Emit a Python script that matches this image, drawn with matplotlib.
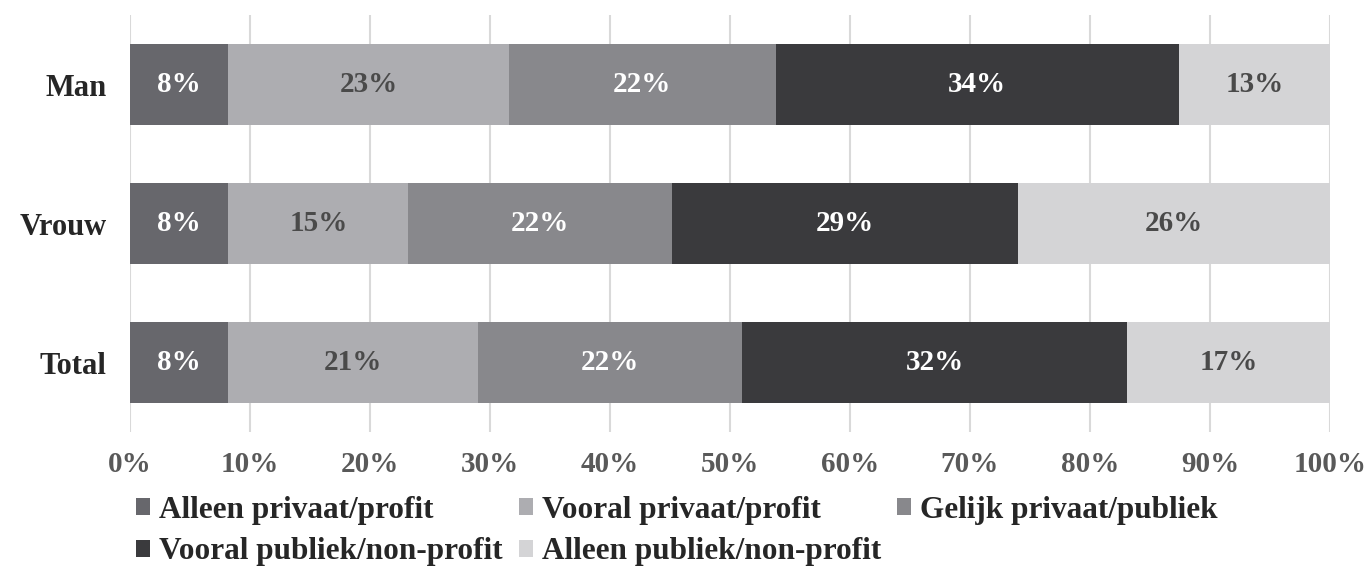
import numpy as np
import matplotlib
matplotlib.use("Agg")
import matplotlib.pyplot as plt
from matplotlib.ticker import PercentFormatter

categories = ["Man", "Vrouw", "Total"]
series_names = ["Alleen privaat/profit", "Vooral privaat/profit", "Gelijk privaat/publiek",
                "Vooral publiek/non-profit", "Alleen publiek/non-profit"]
alleen_privaat = [8.2, 8.2, 8.2]
vooral_privaat = [23.4, 15.0, 20.8]
gelijk = [22.2, 22.0, 22.0]
vooral_publiek = [33.6, 28.8, 32.1]
alleen_publiek = [12.6, 26.0, 16.9]
labels = [[8, 8, 8], [23, 15, 21], [22, 22, 22], [34, 29, 32], [13, 26, 17]]
xticks = [0, 10, 20, 30, 40, 50, 60, 70, 80, 90, 100]

colors = ["#67676c", "#adadb1", "#88888c", "#3a3a3d", "#d4d4d6"]
text_colors = ["white", "#4a4a4a", "white", "white", "#4a4a4a"]

plt.rcParams["font.family"] = ["Liberation Serif", "DejaVu Serif"]
plt.rcParams["font.weight"] = "bold"

fig = plt.figure(figsize=(13.72, 5.8), dpi=100)
ax = fig.add_axes([130 / 1372, 1 - 432 / 580, 1200 / 1372, 417 / 580])

data = [alleen_privaat, vooral_privaat, gelijk, vooral_publiek, alleen_publiek]
y = np.arange(len(categories))
left = np.zeros(len(categories))
handles = []
for i, vals in enumerate(data):
    vals = np.array(vals)
    b = ax.barh(y, vals, left=left, height=0.58, color=colors[i], label=series_names[i], zorder=2)
    handles.append(b)
    for j in range(len(categories)):
        ax.text(left[j] + vals[j] / 2, y[j], f"{labels[i][j]}%", ha="center", va="center",
                color=text_colors[i], fontsize=21, fontweight="bold", zorder=3)
    left += vals

ax.set_xlim(0, 100)
ax.set_ylim(2.5, -0.5)
ax.set_xticks(xticks)
ax.xaxis.set_major_formatter(PercentFormatter(decimals=0))
ax.set_yticks(y)
ax.set_yticklabels(categories)
ax.tick_params(axis="x", length=0, pad=14, labelsize=21, labelcolor="#595959")
ax.tick_params(axis="y", length=0, pad=17, labelsize=22, labelcolor="#262626")
ax.grid(axis="x", color="#d9d9d9", linewidth=1.5, zorder=0)
for s in ax.spines.values():
    s.set_visible(False)

order = [0, 3, 1, 4, 2]
leg = fig.legend([handles[k] for k in order], [series_names[k] for k in order],
                 ncol=3, loc="upper left", bbox_to_anchor=(136 / 1372, 1 - 496 / 580),
                 frameon=False, fontsize=22.5, handlelength=0.45, handleheight=0.45,
                 handletextpad=0.3, columnspacing=0.5, labelspacing=0.4,
                 borderaxespad=0, borderpad=0)
for t in leg.get_texts():
    t.set_color("#262626")

fig.savefig("out.png", dpi=100)
